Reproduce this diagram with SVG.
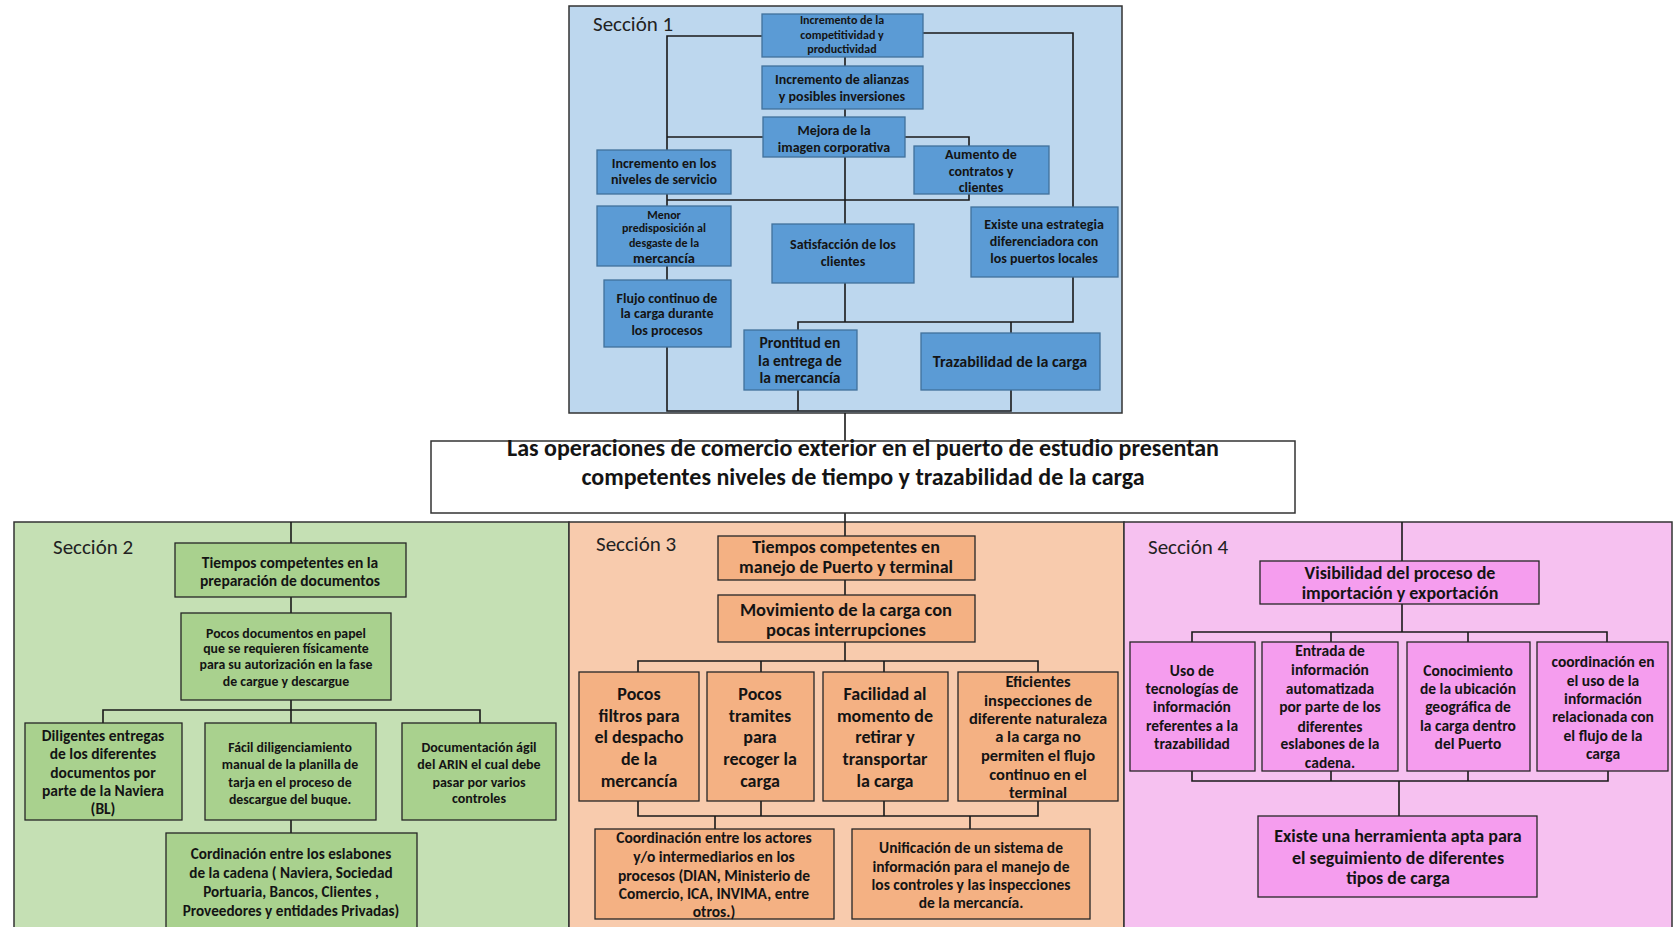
<svg xmlns="http://www.w3.org/2000/svg" width="1673" height="927" viewBox="0 0 1673 927">
  <style>
    .sec { stroke: #333; stroke-width: 1.5; }
    .n1 { fill: #5B9BD5; stroke: #41719C; stroke-width: 1.3; }
    .n2 { fill: #A9D18E; stroke: #262626; stroke-width: 1.3; }
    .n3 { fill: #F4B183; stroke: #262626; stroke-width: 1.3; }
    .n4 { fill: #F59DEE; stroke: #262626; stroke-width: 1.3; }
    text { font-family: Carlito, Lato, "Liberation Sans", sans-serif; font-weight: bold; fill: #141414; text-anchor: middle; }
    .lbl { font-weight: normal; font-size: 21px; text-anchor: start; fill: #222; }
    .links path { fill: none; stroke: #1a1a1a; stroke-width: 1.6; }
  </style>

  <!-- section panels -->
  <rect class="sec" x="569" y="6" width="553" height="407" fill="#BDD7EE"/>
  <rect class="sec" x="14" y="522" width="555" height="420" fill="#C5E0B4"/>
  <rect class="sec" x="569" y="522" width="555" height="420" fill="#F8CBAD"/>
  <rect class="sec" x="1124" y="522" width="548" height="420" fill="#F6C1F0"/>
  <text class="lbl" x="593" y="31">Sección 1</text>
  <text class="lbl" x="53" y="554">Sección 2</text>
  <text class="lbl" x="596" y="551">Sección 3</text>
  <text class="lbl" x="1148" y="554">Sección 4</text>

  <g class="links">
    <!-- section 1 -->
    <path d="M845,57 V66 M845,109 V117 M845,157 V224"/>
    <path d="M762,36 H667 V150 M667,137 H763 M905,137 H969 V146"/>
    <path d="M923,33 H1073 V207"/>
    <path d="M667,194 V206 M667,200 H969 V194 M667,266 V280"/>
    <path d="M667,347 V411 H1011 V390 M798,390 V411"/>
    <path d="M845,283 V322 M798,330 V322 H1073 V277 M1011,322 V333"/>
    <path d="M845,413 V441 M845,513 V522"/>
    <!-- section 2 -->
    <path d="M291,522 V543 M291,597 V613 M291,700 V723 M103,723 V710 H480 V723 M291,820 V833"/>
    <!-- section 3 -->
    <path d="M845,522 V536 M845,580 V595 M845,642 V661 M638,672 V661 H1038 V672 M761,661 V672 M884,661 V672"/>
    <path d="M638,801 V816 H1038 V801 M761,801 V816 M884,801 V816 M715,816 V829 M970,816 V829"/>
    <!-- section 4 -->
    <path d="M1402,522 V561 M1402,604 V632 M1192,642 V632 H1607 V642 M1331,632 V642 M1468,632 V642"/>
    <path d="M1192,771 V781 H1608 V771 M1331,771 V781 M1468,771 V781 M1399,781 V816"/>
  </g>

  <!-- central statement -->
  <g id="objetivo">
    <rect x="431" y="441" width="864" height="72" fill="#fff" stroke="#333" stroke-width="1.5"/>
    <text style="font-size:24px"><tspan x="863" y="456">Las operaciones de comercio exterior en el puerto de estudio presentan</tspan><tspan x="863" y="485">competentes niveles de tiempo y trazabilidad de la carga</tspan></text>
  </g>

  <!-- Sección 1 -->
  <g id="competitividad">
    <rect class="n1" x="762" y="14" width="161" height="43"/>
    <text style="font-size:12px"><tspan x="842" y="24">Incremento de la</tspan><tspan x="842" y="39">competitividad y</tspan><tspan x="842" y="53">productividad</tspan></text>
  </g>
  <g id="alianzas">
    <rect class="n1" x="762" y="66" width="161" height="43"/>
    <text style="font-size:14px"><tspan x="842" y="84">Incremento de alianzas</tspan><tspan x="842" y="101">y posibles inversiones</tspan></text>
  </g>
  <g id="imagen">
    <rect class="n1" x="763" y="117" width="142" height="40"/>
    <text style="font-size:14px"><tspan x="834" y="135">Mejora de la</tspan><tspan x="834" y="152">imagen corporativa</tspan></text>
  </g>
  <g id="servicio">
    <rect class="n1" x="597" y="150" width="134" height="44"/>
    <text style="font-size:14px"><tspan x="664" y="168">Incremento en los</tspan><tspan x="664" y="184">niveles de servicio</tspan></text>
  </g>
  <g id="contratos">
    <rect class="n1" x="914" y="146" width="135" height="48"/>
    <text style="font-size:14px"><tspan x="981" y="159">Aumento de</tspan><tspan x="981" y="176">contratos y</tspan><tspan x="981" y="192">clientes</tspan></text>
  </g>
  <g id="desgaste">
    <rect class="n1" x="597" y="206" width="134" height="60"/>
    <text style="font-size:12px"><tspan x="664" y="219">Menor</tspan><tspan x="664" y="232">predisposición al</tspan><tspan x="664" y="247">desgaste de la</tspan></text>
    <text style="font-size:14.5px" x="664" y="263">mercancía</text>
  </g>
  <g id="satisfaccion">
    <rect class="n1" x="772" y="224" width="142" height="59"/>
    <text style="font-size:14px"><tspan x="843" y="249">Satisfacción de los</tspan><tspan x="843" y="266">clientes</tspan></text>
  </g>
  <g id="estrategia">
    <rect class="n1" x="971" y="207" width="147" height="70"/>
    <text style="font-size:14px"><tspan x="1044" y="229">Existe una estrategia</tspan><tspan x="1044" y="246">diferenciadora con</tspan><tspan x="1044" y="263">los puertos locales</tspan></text>
  </g>
  <g id="flujo">
    <rect class="n1" x="604" y="280" width="127" height="67"/>
    <text style="font-size:14px"><tspan x="667" y="303">Flujo continuo de</tspan><tspan x="667" y="318">la carga durante</tspan><tspan x="667" y="335">los procesos</tspan></text>
  </g>
  <g id="prontitud">
    <rect class="n1" x="744" y="330" width="113" height="60"/>
    <text style="font-size:15.5px"><tspan x="800" y="348">Prontitud en</tspan><tspan x="800" y="366">la entrega de</tspan><tspan x="800" y="383">la mercancía</tspan></text>
  </g>
  <g id="trazabilidad">
    <rect class="n1" x="921" y="333" width="179" height="57"/>
    <text style="font-size:16px" x="1010" y="367">Trazabilidad de la carga</text>
  </g>

  <!-- Sección 2 -->
  <g id="documentos">
    <rect class="n2" x="175" y="543" width="231" height="54"/>
    <text style="font-size:15.5px"><tspan x="290" y="568">Tiempos competentes en la</tspan><tspan x="290" y="586">preparación de documentos</tspan></text>
  </g>
  <g id="papel">
    <rect class="n2" x="181" y="613" width="210" height="87"/>
    <text style="font-size:13.8px"><tspan x="286" y="638">Pocos  documentos en papel</tspan><tspan x="286" y="653">que se requieren físicamente</tspan><tspan x="286" y="669">para su autorización en la fase</tspan><tspan x="286" y="686">de cargue y descargue</tspan></text>
  </g>
  <g id="naviera">
    <rect class="n2" x="25" y="723" width="157" height="97"/>
    <text style="font-size:15.5px"><tspan x="103" y="741">Diligentes entregas</tspan><tspan x="103" y="759">de los diferentes</tspan><tspan x="103" y="778">documentos por</tspan><tspan x="103" y="796">parte de la Naviera</tspan><tspan x="103" y="814">(BL)</tspan></text>
  </g>
  <g id="tarja">
    <rect class="n2" x="205" y="723" width="171" height="97"/>
    <text style="font-size:13.8px"><tspan x="290" y="752">Fácil diligenciamiento</tspan><tspan x="290" y="769">manual de la planilla de</tspan><tspan x="290" y="787">tarja en el proceso de</tspan><tspan x="290" y="804">descargue del buque.</tspan></text>
  </g>
  <g id="arin">
    <rect class="n2" x="402" y="723" width="154" height="97"/>
    <text style="font-size:14px"><tspan x="479" y="752">Documentación ágil</tspan><tspan x="479" y="769">del ARIN el cual debe</tspan><tspan x="479" y="787">pasar por varios</tspan><tspan x="479" y="803">controles</tspan></text>
  </g>
  <g id="eslabones">
    <rect class="n2" x="166" y="833" width="251" height="110"/>
    <text style="font-size:15.2px"><tspan x="291" y="859">Cordinación entre los eslabones</tspan><tspan x="291" y="878">de la cadena ( Naviera, Sociedad</tspan><tspan x="291" y="897">Portuaria, Bancos, Clientes ,</tspan><tspan x="291" y="916">Proveedores y entidades Privadas)</tspan></text>
  </g>

  <!-- Sección 3 -->
  <g id="terminal">
    <rect class="n3" x="718" y="536" width="257" height="44"/>
    <text style="font-size:18px"><tspan x="846" y="553">Tiempos competentes en</tspan><tspan x="846" y="573">manejo de Puerto y terminal</tspan></text>
  </g>
  <g id="movimiento">
    <rect class="n3" x="718" y="595" width="257" height="47"/>
    <text style="font-size:18.5px"><tspan x="846" y="616">Movimiento de la carga con</tspan><tspan x="846" y="636">pocas interrupciones</tspan></text>
  </g>
  <g id="filtros">
    <rect class="n3" x="579" y="672" width="120" height="129"/>
    <text style="font-size:18px"><tspan x="639" y="700">Pocos</tspan><tspan x="639" y="722">filtros para</tspan><tspan x="639" y="743">el despacho</tspan><tspan x="639" y="765">de la</tspan><tspan x="639" y="787">mercancía</tspan></text>
  </g>
  <g id="tramites">
    <rect class="n3" x="707" y="672" width="107" height="129"/>
    <text style="font-size:18px"><tspan x="760" y="700">Pocos</tspan><tspan x="760" y="722">tramites</tspan><tspan x="760" y="743">para</tspan><tspan x="760" y="765">recoger la</tspan><tspan x="760" y="787">carga</tspan></text>
  </g>
  <g id="retiro">
    <rect class="n3" x="823" y="672" width="125" height="129"/>
    <text style="font-size:18px"><tspan x="885" y="700">Facilidad al</tspan><tspan x="885" y="722">momento de</tspan><tspan x="885" y="743">retirar y</tspan><tspan x="885" y="765">transportar</tspan><tspan x="885" y="787">la carga</tspan></text>
  </g>
  <g id="inspecciones">
    <rect class="n3" x="958" y="672" width="160" height="129"/>
    <text style="font-size:16.5px"><tspan x="1038" y="687">Eficientes</tspan><tspan x="1038" y="706">inspecciones de</tspan><tspan x="1038" y="724">diferente naturaleza</tspan><tspan x="1038" y="742">a la carga no</tspan><tspan x="1038" y="761">permiten el flujo</tspan><tspan x="1038" y="780">continuo en el</tspan><tspan x="1038" y="798">terminal</tspan></text>
  </g>
  <g id="actores">
    <rect class="n3" x="595" y="829" width="239" height="90"/>
    <text style="font-size:15.5px"><tspan x="714" y="843">Coordinación entre los actores</tspan><tspan x="714" y="862">y/o intermediarios en los</tspan><tspan x="714" y="881">procesos (DIAN, Ministerio de</tspan><tspan x="714" y="899">Comercio, ICA, INVIMA, entre</tspan><tspan x="714" y="917">otros.)</tspan></text>
  </g>
  <g id="unificacion">
    <rect class="n3" x="852" y="829" width="238" height="90"/>
    <text style="font-size:15.5px"><tspan x="971" y="853">Unificación de un sistema de</tspan><tspan x="971" y="872">información para el manejo de</tspan><tspan x="971" y="890">los controles y las inspecciones</tspan><tspan x="971" y="908">de la mercancía.</tspan></text>
  </g>

  <!-- Sección 4 -->
  <g id="visibilidad">
    <rect class="n4" x="1260" y="561" width="279" height="43"/>
    <text style="font-size:18px"><tspan x="1400" y="579">Visibilidad del proceso de</tspan><tspan x="1400" y="599">importación y exportación</tspan></text>
  </g>
  <g id="tecnologias">
    <rect class="n4" x="1130" y="642" width="125" height="129"/>
    <text style="font-size:15.5px"><tspan x="1192" y="676">Uso  de</tspan><tspan x="1192" y="694">tecnologías de</tspan><tspan x="1192" y="712">información</tspan><tspan x="1192" y="731">referentes a la</tspan><tspan x="1192" y="749">trazabilidad</tspan></text>
  </g>
  <g id="entrada">
    <rect class="n4" x="1262" y="642" width="136" height="129"/>
    <text style="font-size:15.5px"><tspan x="1330" y="656">Entrada de</tspan><tspan x="1330" y="675">información</tspan><tspan x="1330" y="694">automatizada</tspan><tspan x="1330" y="712">por parte de los</tspan><tspan x="1330" y="732">diferentes</tspan><tspan x="1330" y="749">eslabones de la</tspan><tspan x="1330" y="768">cadena.</tspan></text>
  </g>
  <g id="ubicacion">
    <rect class="n4" x="1407" y="642" width="123" height="129"/>
    <text style="font-size:15.5px"><tspan x="1468" y="676">Conocimiento</tspan><tspan x="1468" y="694">de la ubicación</tspan><tspan x="1468" y="712">geográfica de</tspan><tspan x="1468" y="731">la carga dentro</tspan><tspan x="1468" y="749">del Puerto</tspan></text>
  </g>
  <g id="coordinacion">
    <rect class="n4" x="1537" y="642" width="131" height="129"/>
    <text style="font-size:15.5px"><tspan x="1603" y="667">coordinación en</tspan><tspan x="1603" y="686">el uso de la</tspan><tspan x="1603" y="704">información</tspan><tspan x="1603" y="722">relacionada con</tspan><tspan x="1603" y="741">el flujo de la</tspan><tspan x="1603" y="759">carga</tspan></text>
  </g>
  <g id="herramienta">
    <rect class="n4" x="1258" y="816" width="279" height="81"/>
    <text style="font-size:18px"><tspan x="1398" y="842">Existe una herramienta apta para</tspan><tspan x="1398" y="864">el seguimiento de diferentes</tspan><tspan x="1398" y="884">tipos de carga</tspan></text>
  </g>
</svg>
